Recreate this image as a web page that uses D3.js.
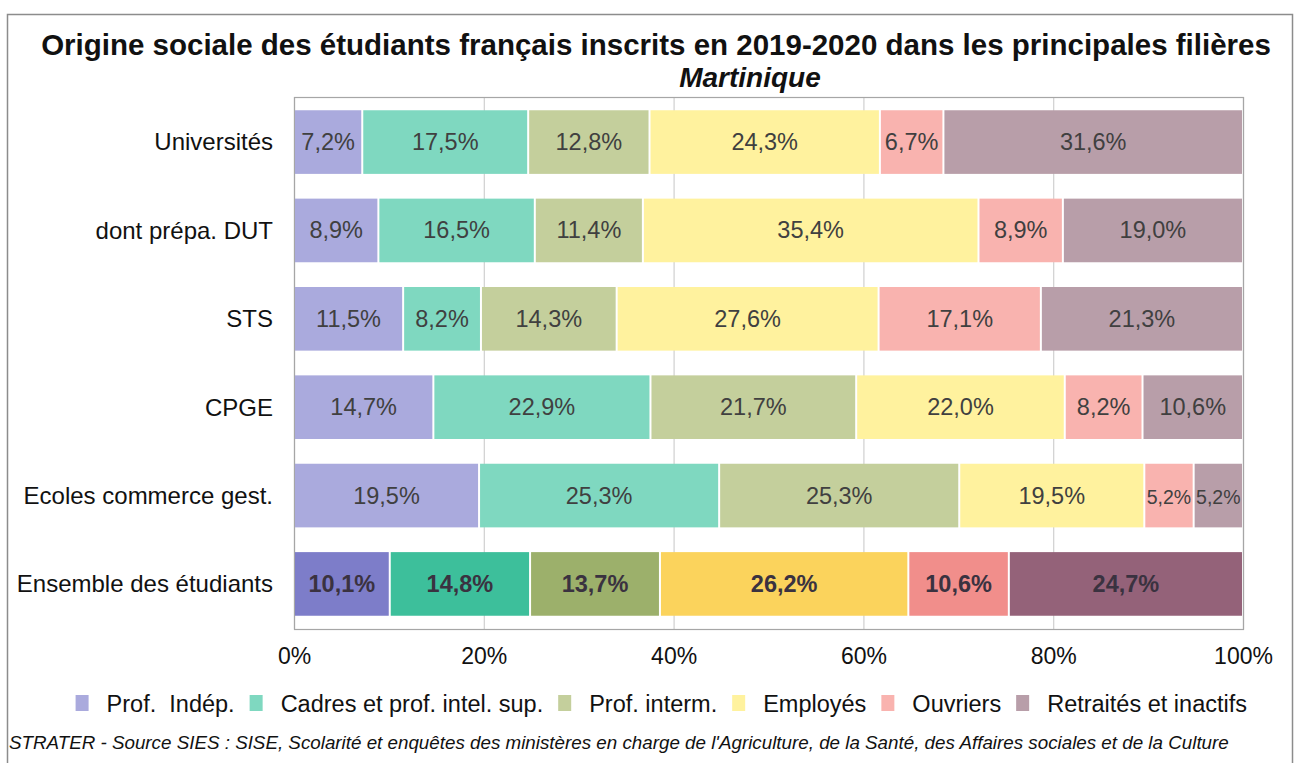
<!DOCTYPE html>
<html>
<head>
<meta charset="utf-8">
<script src="https://cdn.jsdelivr.net/npm/d3@7"></script>
<style>
	body { margin: 0; background: #fff; }
	svg { font-family: "Liberation Sans", Arial, sans-serif; display: block; }
</style>
</head>
<body>
<div id="chart"></div>
<script>

// data
// ----------------------------------------

var categories = ["Universités", "dont prépa. DUT", "STS", "CPGE", "Ecoles commerce gest.", "Ensemble des étudiants"];
var series = ["Prof.  Indép.", "Cadres et prof. intel. sup.", "Prof. interm.", "Employés", "Ouvriers", "Retraités et inactifs"];

var prof_indep = [7.2, 8.9, 11.5, 14.7, 19.5, 10.1];
var cadres = [17.5, 16.5, 8.2, 22.9, 25.3, 14.8];
var prof_interm = [12.8, 11.4, 14.3, 21.7, 25.3, 13.7];
var employes = [24.3, 35.4, 27.6, 22.0, 19.5, 26.2];
var ouvriers = [6.7, 8.9, 17.1, 8.2, 5.2, 10.6];
var retraites = [31.6, 19.0, 21.3, 10.6, 5.2, 24.7];

var ticks = [0, 0.2, 0.4, 0.6, 0.8, 1];

// main variables
// ----------------------------------------

var width = 1299, height = 763;
var margin = {top: 97, right: 56, bottom: 134, left: 294};

var colors = ["#aaaadd", "#7fd8c0", "#c4cf9c", "#fff29e", "#f9b3af", "#b89ea9"];
var colors_total = ["#7d7dc9", "#3dbf9b", "#9cb06b", "#fbd35c", "#f18e8b", "#946279"];

var svg = d3.select("#chart")
	.append("svg")
	.attr("width", width)
	.attr("height", height)

// outer frame
svg.append("rect")
	.attr("x", 7.5).attr("y", 14.5)
	.attr("width", 1285).attr("height", 760)
	.attr("fill", "none")
	.attr("stroke", "#8c8c8c")
	.attr("stroke-width", 1.5)

// title
svg.append("text")
	.attr("x", 656).attr("y", 55)
	.attr("text-anchor", "middle")
	.attr("font-size", 29.5)
	.attr("font-weight", "bold")
	.attr("fill", "#111")
	.text("Origine sociale des étudiants français inscrits en 2019-2020 dans les principales filières")

svg.append("text")
	.attr("x", 750).attr("y", 87)
	.attr("text-anchor", "middle")
	.attr("font-size", 28)
	.attr("font-weight", "bold")
	.attr("font-style", "italic")
	.attr("fill", "#111")
	.text("Martinique")

// scales
// ----------------------------------------

var x = d3.scaleLinear()
	.domain([0, 1])
	.range([margin.left, width - margin.right]);

var y = d3.scaleBand()
	.domain(categories)
	.range([margin.top, height - margin.bottom])
	.paddingInner(0.28)
	.paddingOuter(0.15);

var rows = categories.map(function(c, i){
	return {
		cat: c,
		s0: prof_indep[i], s1: cadres[i], s2: prof_interm[i],
		s3: employes[i], s4: ouvriers[i], s5: retraites[i]
	}
})

var stack = d3.stack()
	.keys(["s0", "s1", "s2", "s3", "s4", "s5"])
	.offset(d3.stackOffsetExpand);

var layers = stack(rows);

// grid + frame
// ----------------------------------------

var plot = svg.append("g").attr("id", "d3_plot");

plot.append("g")
	.selectAll("line")
	.data(ticks)
	.enter()
	.append("line")
	.attr("x1", function(d){ return x(d) + 0.5; })
	.attr("x2", function(d){ return x(d) + 0.5; })
	.attr("y1", margin.top)
	.attr("y2", height - margin.bottom)
	.attr("stroke", "#d0d0d0")
	.attr("stroke-width", 1.2)

plot.append("rect")
	.attr("x", x(0) + 0.5).attr("y", margin.top + 0.5)
	.attr("width", x(1) - x(0)).attr("height", height - margin.bottom - margin.top)
	.attr("fill", "none")
	.attr("stroke", "#a6a6a6")
	.attr("stroke-width", 1.2)

// bars
// ----------------------------------------

var fmt = function(v){ return d3.format(".1f")(v).replace(".", ",") + "%"; };

var groups = plot.append("g")
	.selectAll("g")
	.data(layers)
	.enter()
	.append("g")

groups.selectAll("rect")
	.data(function(d){ return d.map(function(p){ p.key = d.key; p.idx = d.index; return p; }); })
	.enter()
	.append("rect")
	.attr("x", function(d){ return x(d[0]) + 1; })
	.attr("width", function(d){ return Math.max(0, x(d[1]) - x(d[0]) - 2); })
	.attr("y", function(d){ return y(d.data.cat); })
	.attr("height", y.bandwidth())
	.attr("fill", function(d){
		return d.data.cat == "Ensemble des étudiants" ? colors_total[d.idx] : colors[d.idx];
	})

groups.selectAll("text")
	.data(function(d){ return d; })
	.enter()
	.append("text")
	.attr("x", function(d){ return (x(d[0]) + x(d[1])) / 2; })
	.attr("y", function(d){ return y(d.data.cat) + y.bandwidth() / 2 + 8; })
	.attr("text-anchor", "middle")
	.attr("font-size", function(d){ return d.data[d.key] < 6 ? 19.5 : 23.5; })
	.attr("font-weight", function(d){ return d.data.cat == "Ensemble des étudiants" ? "bold" : "normal"; })
	.attr("fill", function(d){ return d.data.cat == "Ensemble des étudiants" ? "#3a3240" : "#404040"; })
	.text(function(d){ return fmt(d.data[d.key]); })

// axes
// ----------------------------------------

var yAxis = svg.append("g")
	.attr("transform", "translate(" + (margin.left - 21) + ",0)")
	.call(d3.axisLeft(y).tickSize(0).tickPadding(0))

yAxis.select(".domain").remove();
yAxis.selectAll("text")
	.attr("font-size", 24)
	.attr("fill", "#111")
	.attr("font-family", "Liberation Sans, Arial, sans-serif")
	.attr("dy", "0.35em")

var xAxis = svg.append("g")
	.attr("transform", "translate(0," + (height - margin.bottom) + ")")
	.call(d3.axisBottom(x).tickValues(ticks).tickFormat(d3.format(".0%")).tickSize(0).tickPadding(19))

xAxis.select(".domain").remove();
xAxis.selectAll("text")
	.attr("font-size", 23)
	.attr("fill", "#111")
	.attr("font-family", "Liberation Sans, Arial, sans-serif")

// legend
// ----------------------------------------

var legend = svg.append("g").attr("class", "legend");
var lx = 0;
series.forEach(function(s, i){
	var g = legend.append("g");
	g.append("rect")
		.attr("x", lx).attr("y", -8)
		.attr("width", 13).attr("height", 16)
		.attr("fill", colors[i])
	var t = g.append("text")
		.attr("x", lx + 31).attr("y", 8.5)
		.attr("font-size", 23.5)
		.attr("fill", "#111")
		.attr("xml:space", "preserve")
		.style("white-space", "pre")
		.text(s)
	lx += 31 + t.node().getComputedTextLength() + 15;
})
legend.attr("transform", "translate(" + (1247 - (lx - 15)) + ",703)")

// source
// ----------------------------------------

svg.append("text")
	.attr("x", 9).attr("y", 749)
	.attr("font-size", 18.8)
	.attr("font-style", "italic")
	.attr("fill", "#111")
	.text("STRATER - Source SIES : SISE, Scolarité et enquêtes des ministères en charge de l'Agriculture, de la Santé, des Affaires sociales et de la Culture")

</script>
</body>
</html>
